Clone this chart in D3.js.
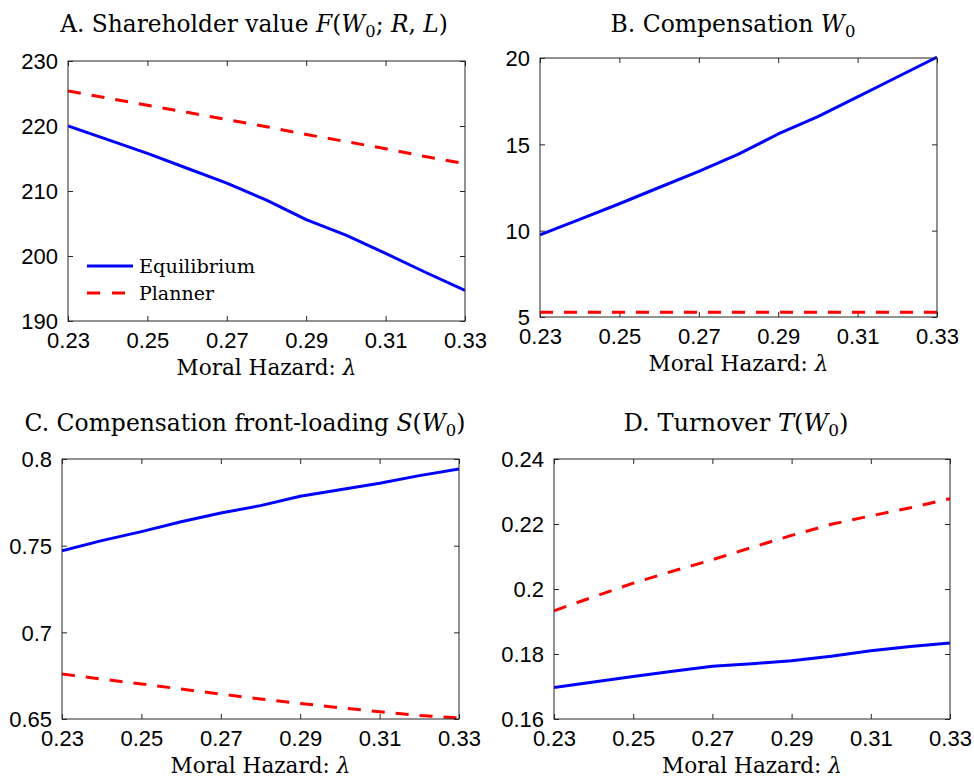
<!DOCTYPE html>
<html>
<head>
<meta charset="utf-8">
<script src="https://cdn.jsdelivr.net/npm/d3@7"></script>
<style>
  html, body { margin: 0; padding: 0; background: #fff; }
  svg { display: block; }
</style>
</head>
<body>
<svg id="chart" width="974" height="778"></svg>
<script>
// ---------------- data ----------------
const lambda = [0.23, 0.24, 0.25, 0.26, 0.27, 0.28, 0.29, 0.30, 0.31, 0.32, 0.33];
const xTicks = [0.23, 0.25, 0.27, 0.29, 0.31, 0.33];
const seriesNames = ["Equilibrium", "Planner"];

const valueEq = [220.0, 217.9, 215.8, 213.5, 211.2, 208.6, 205.6, 203.2, 200.4, 197.5, 194.7];
const valuePl = [225.4, 224.3, 223.2, 222.1, 221.0, 219.9, 218.7, 217.6, 216.5, 215.3, 214.2];
const valueTicks = [190, 200, 210, 220, 230];

const compEq = [9.76, 10.65, 11.56, 12.5, 13.43, 14.43, 15.6, 16.6, 17.75, 18.9, 20.05];
const compPl = [5.27, 5.27, 5.27, 5.27, 5.27, 5.27, 5.27, 5.27, 5.27, 5.27, 5.27];
const compTicks = [5, 10, 15, 20];

const frontEq = [0.7471, 0.7529, 0.7581, 0.7638, 0.7688, 0.7731, 0.7785, 0.7823, 0.7860, 0.7904, 0.7942];
const frontPl = [0.6760, 0.6730, 0.6702, 0.6673, 0.6644, 0.6615, 0.6590, 0.6565, 0.6542, 0.6520, 0.6506];
const frontTicks = [0.65, 0.7, 0.75, 0.8];

const turnEq = [0.1697, 0.1714, 0.1731, 0.1747, 0.1762, 0.1770, 0.1779, 0.1793, 0.1810, 0.1823, 0.1834];
const turnPl = [0.1933, 0.1976, 0.2018, 0.2055, 0.2090, 0.2128, 0.2165, 0.2199, 0.2225, 0.2250, 0.2278];
const turnTicks = [0.16, 0.18, 0.2, 0.22, 0.24];

const xLabel = "Moral Hazard: ";
const xLabelSym = "λ";

// ---------------- layout ----------------
const svg = d3.select("#chart");
const serif = "'DejaVu Serif', 'Liberation Serif', serif";
const sans = "'Liberation Sans', Arial, sans-serif";
const blue = "#0000ff", red = "#ff0000";
const frameColor = "#262626";

const panels = [
  { box: [68, 465, 61, 321], yDomain: [190, 230], yTicks: valueTicks, eq: valueEq, pl: valuePl,
    title: [["A. Shareholder value ", "r"], ["F", "i"], ["(", "r"], ["W", "i"], ["0", "s"], ["; ", "r"], ["R", "i"], [", ", "r"], ["L", "i"], [")", "r"]],
    titleX: 254, titleY: 32, titleW: 388, legend: true },
  { box: [540, 937, 58, 317], yDomain: [5, 20], yTicks: compTicks, eq: compEq, pl: compPl,
    title: [["B. Compensation ", "r"], ["W", "i"], ["0", "s"]],
    titleX: 733, titleY: 32, titleW: 245 },
  { box: [62, 459, 459, 719], yDomain: [0.65, 0.8], yTicks: frontTicks, eq: frontEq, pl: frontPl,
    title: [["C. Compensation front-loading ", "r"], ["S", "i"], ["(", "r"], ["W", "i"], ["0", "s"], [")", "r"]],
    titleX: 245, titleY: 431, titleW: 441 },
  { box: [554, 950, 459, 719], yDomain: [0.16, 0.24], yTicks: turnTicks, eq: turnEq, pl: turnPl,
    title: [["D. Turnover ", "r"], ["T", "i"], ["(", "r"], ["W", "i"], ["0", "s"], [")", "r"]],
    titleX: 736, titleY: 431, titleW: 225 }
];

// shrink/grow a text's font size so that it spans the target width
function fitWidth(t, target, base) {
  const w = t.node().getComputedTextLength();
  if (w > 0) {
    const s = base * target / w;
    t.attr("font-size", s);
    t.selectAll("tspan.sub").attr("font-size", s * 0.7);
  }
}

function drawTitle(g, parts, x, y, size, target) {
  const t = g.append("text")
    .attr("x", x).attr("y", y)
    .attr("text-anchor", "middle")
    .attr("font-family", serif)
    .attr("font-size", size)
    .attr("fill", "#000");
  let shifted = false;
  parts.forEach(([txt, st]) => {
    const sp = t.append("tspan").text(txt);
    if (st === "i") sp.attr("font-style", "italic");
    if (st === "s") {
      sp.attr("class", "sub").attr("font-size", size * 0.7).attr("dy", 5);
      shifted = true;
    } else if (shifted) {
      sp.attr("dy", -5);
      shifted = false;
    }
  });
  fitWidth(t, target, size);
  return t;
}

panels.forEach((p, i) => {
  const [x0, x1, y0, y1] = p.box;
  const g = svg.append("g");
  const x = d3.scaleLinear().domain([0.23, 0.33]).range([x0, x1]);
  const y = d3.scaleLinear().domain(p.yDomain).range([y1, y0]);

  const clipId = "clip" + i;
  g.append("clipPath").attr("id", clipId)
    .append("rect").attr("x", x0).attr("y", y0 - 2).attr("width", x1 - x0).attr("height", y1 - y0 + 4);

  // axes with inward ticks on all four sides
  const tickLen = 5;
  const bottom = g.append("g").attr("transform", `translate(0,${y1})`)
    .call(d3.axisBottom(x).tickValues(xTicks).tickSizeInner(-tickLen).tickSizeOuter(0).tickFormat(d => String(d)));
  const top = g.append("g").attr("transform", `translate(0,${y0})`)
    .call(d3.axisTop(x).tickValues(xTicks).tickSizeInner(-tickLen).tickSizeOuter(0).tickFormat(""));
  const left = g.append("g").attr("transform", `translate(${x0},0)`)
    .call(d3.axisLeft(y).tickValues(p.yTicks).tickSizeInner(-tickLen).tickSizeOuter(0).tickFormat(d => String(d)));
  const right = g.append("g").attr("transform", `translate(${x1},0)`)
    .call(d3.axisRight(y).tickValues(p.yTicks).tickSizeInner(-tickLen).tickSizeOuter(0).tickFormat(""));

  [bottom, top, left, right].forEach(a => {
    a.select(".domain").remove();
    a.selectAll(".tick line").attr("stroke", frameColor).attr("stroke-width", 1);
    a.selectAll(".tick text").attr("font-family", sans).attr("font-size", 22).attr("fill", "#000");
  });
  bottom.selectAll(".tick text").attr("dy", null).attr("y", 27);
  left.selectAll(".tick text").attr("x", -10).attr("dy", "0.36em");

  // lines
  const line = d3.line().x((d, k) => x(lambda[k])).y(d => y(d));
  g.append("path").datum(p.pl)
    .attr("clip-path", `url(#${clipId})`)
    .attr("fill", "none").attr("stroke", red).attr("stroke-width", 3)
    .attr("stroke-dasharray", "13,11").attr("d", line);
  g.append("path").datum(p.eq)
    .attr("clip-path", `url(#${clipId})`)
    .attr("fill", "none").attr("stroke", blue).attr("stroke-width", 3)
    .attr("stroke-linejoin", "round").attr("d", line);

  // frame
  g.append("rect").attr("x", x0).attr("y", y0).attr("width", x1 - x0).attr("height", y1 - y0)
    .attr("fill", "none").attr("stroke", frameColor).attr("stroke-width", 1);

  // x label
  const xl = g.append("text")
    .attr("x", (x0 + x1) / 2).attr("y", y1 + 54)
    .attr("text-anchor", "middle")
    .attr("font-family", serif).attr("font-size", 20).attr("fill", "#000");
  xl.append("tspan").text(xLabel);
  xl.append("tspan").attr("font-style", "italic").text(xLabelSym);
  fitWidth(xl, 180, 20);

  // title
  drawTitle(g, p.title, p.titleX, p.titleY, 22, p.titleW);

  // legend
  if (p.legend) {
    const lg = g.append("g");
    const items = [
      { name: seriesNames[0], color: blue, dash: null, yy: 266 },
      { name: seriesNames[1], color: red, dash: "13,12", yy: 293 }
    ];
    items.forEach((it, k) => {
      lg.append("line").attr("x1", 87).attr("x2", 133).attr("y1", it.yy).attr("y2", it.yy)
        .attr("stroke", it.color).attr("stroke-width", 3)
        .attr("stroke-dasharray", it.dash);
      const tt = lg.append("text").attr("x", 139).attr("y", it.yy + 7)
        .attr("font-family", serif).attr("font-size", 20).attr("fill", "#000")
        .text(it.name);
      if (k === 0) fitWidth(tt, 116, 20);
      else fitWidth(tt, 75, 20);
    });
  }
});
</script>
</body>
</html>
